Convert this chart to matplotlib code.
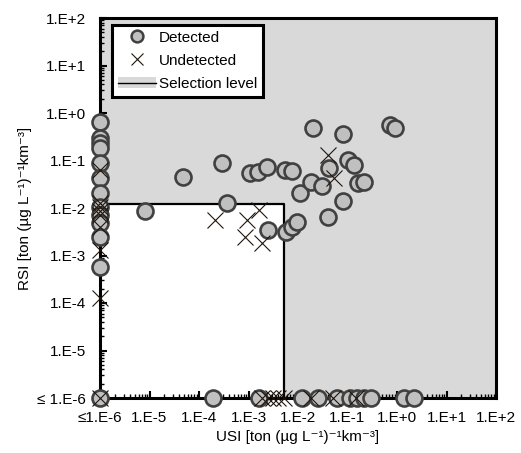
import matplotlib
matplotlib.use("Agg")
import matplotlib.pyplot as plt
from matplotlib.lines import Line2D
from matplotlib.patches import Patch, Polygon
from matplotlib.ticker import LogLocator, FixedLocator, NullFormatter

plt.rcParams['font.family'] = ['Liberation Sans', 'DejaVu Sans']

# ---- data (values at or below 1E-6 are plotted at the floor 1E-6) ----
usi_sel = 5.1e-3
rsi_sel = 0.012

det_usi = [
    # left column (USI <= 1E-6)
    1e-6, 1e-6, 1e-6, 1e-6, 1e-6, 1e-6, 1e-6, 1e-6, 1e-6, 1e-6, 1e-6, 1e-6,
    # bottom row (RSI <= 1E-6)
    1e-6, 1.9e-4, 1.6e-3, 0.012, 0.025, 0.061, 0.11, 0.156, 0.215, 0.30, 1.38, 2.2,
    # both above floor
    8.1e-6, 4.8e-5, 2.9e-4, 3.6e-4, 1.07e-3, 1.58e-3, 2.37e-3, 5.5e-3, 7.5e-3,
    0.011, 0.0185, 0.030, 0.043, 0.104, 0.135, 0.165, 0.212, 0.083, 0.041,
    0.0203, 0.082, 0.72, 0.93, 2.5e-3, 5.7e-3, 7.5e-3, 9.5e-3,
]
det_rsi = [
    0.66, 0.30, 0.23, 0.18, 0.089, 0.043, 0.021, 0.0105, 0.0071, 0.0048, 0.0025, 5.7e-4,
    1e-6, 1e-6, 1e-6, 1e-6, 1e-6, 1e-6, 1e-6, 1e-6, 1e-6, 1e-6, 1e-6, 1e-6,
    8.6e-3, 0.046, 0.087, 0.0126, 0.054, 0.058, 0.074, 0.063, 0.059,
    0.0204, 0.0358, 0.0286, 0.070, 0.1026, 0.080, 0.0344, 0.0358, 0.0143, 6.6e-3,
    0.48, 0.36, 0.56, 0.48, 3.4e-3, 3.1e-3, 3.9e-3, 5.0e-3,
]

und_usi = [
    1e-6, 1e-6, 1e-6, 1e-6, 1e-6, 1e-6, 1e-6, 1e-6,
    1e-6, 1.9e-3, 2.5e-3, 3.1e-3, 3.9e-3, 5.2e-3, 0.018, 0.051, 0.149,
    2.1e-4, 9.2e-4, 1.6e-3, 8.5e-4, 1.85e-3, 0.041, 0.054,
]
und_rsi = [
    0.063, 0.0127, 0.0105, 0.0086, 0.0071, 0.004, 1.3e-3, 1.3e-4,
    1e-6, 1e-6, 1e-6, 1e-6, 1e-6, 1e-6, 1e-6, 1e-6, 1e-6,
    5.6e-3, 5.6e-3, 9.1e-3, 2.5e-3, 1.8e-3, 0.13, 0.043,
]

x_ticks = [1e-6, 1e-5, 1e-4, 1e-3, 1e-2, 1e-1, 1e0, 1e1, 1e2]
x_labels = ['\u22641.E-6', '1.E-5', '1.E-4', '1.E-3', '1.E-2', '1.E-1', '1.E+0', '1.E+1', '1.E+2']
y_ticks = [1e-6, 1e-5, 1e-4, 1e-3, 1e-2, 1e-1, 1e0, 1e1, 1e2]
y_labels = ['\u2264 1.E-6', '1.E-5', '1.E-4', '1.E-3', '1.E-2', '1.E-1', '1.E+0', '1.E+1', '1.E+2']

# ---- figure ----
fig = plt.figure(figsize=(5.21, 4.53), dpi=100)
ax = fig.add_axes([100 / 521, 1 - 398 / 453, 396 / 521, 380 / 453])
ax.set_xscale('log')
ax.set_yscale('log')
xmin, xmax = x_ticks[0], x_ticks[-1]
ymin, ymax = y_ticks[0], y_ticks[-1]
ax.set_xlim(xmin, xmax)
ax.set_ylim(ymin, ymax)

gray = '#d9d9d9'
sel = Polygon([(usi_sel, ymin), (xmax, ymin), (xmax, ymax), (xmin, ymax),
               (xmin, rsi_sel), (usi_sel, rsi_sel)],
              closed=True, facecolor=gray, edgecolor='none', zorder=1)
ax.add_patch(sel)
ax.plot([xmin, usi_sel, usi_sel], [rsi_sel, rsi_sel, ymin], color='black', lw=1.6, zorder=2,
        solid_capstyle='butt')

ax.plot(det_usi, det_rsi, ls='', marker='o', ms=11.5, mfc='#c0c0c0', mec='#404040',
        mew=1.9, clip_on=False, zorder=4)
ax.plot(und_usi, und_rsi, ls='', marker='x', ms=11.5, color='#1f150c', mew=0.8,
        clip_on=False, zorder=5)

for s in ax.spines.values():
    s.set_linewidth(2.2)
    s.set_zorder(3)

ax.xaxis.set_major_locator(FixedLocator(x_ticks))
ax.yaxis.set_major_locator(FixedLocator(y_ticks))
ax.set_xticklabels(x_labels)
ax.set_yticklabels(y_labels)
ax.xaxis.set_minor_locator(LogLocator(base=10, subs=range(2, 10), numticks=20))
ax.yaxis.set_minor_locator(LogLocator(base=10, subs=range(2, 10), numticks=20))
ax.xaxis.set_minor_formatter(NullFormatter())
ax.yaxis.set_minor_formatter(NullFormatter())
ax.tick_params(which='major', direction='in', length=5, width=1.5, labelsize=11, pad=9,
               top=False, right=False)
ax.tick_params(which='minor', direction='in', length=3, width=1.0, top=False, right=False)
ax.tick_params(axis='y', which='major', pad=10)

label_tail = ' [ton (\u00b5g L\u207b\u00b9)\u207b\u00b9km\u207b\u00b3]'
ax.set_xlabel('USI' + label_tail, fontsize=11, labelpad=4)
ax.set_ylabel('RSI' + label_tail, fontsize=11, labelpad=4)

h1 = Line2D([], [], ls='', marker='o', ms=8.5, mfc='#c0c0c0', mec='#404040', mew=1.8)
h2 = Line2D([], [], ls='', marker='x', ms=8.5, color='#1f150c', mew=0.8)
h3 = (Patch(facecolor=gray, edgecolor='none'), Line2D([], [], color='black', lw=1.0))
leg = ax.legend([h1, h2, h3], ['Detected', 'Undetected', 'Selection level'],
                loc='upper left', bbox_to_anchor=(0.03, 0.982), borderaxespad=0,
                fontsize=11, frameon=True, fancybox=False, framealpha=1,
                edgecolor='black', handlelength=2.5, handletextpad=0.2,
                labelspacing=0.6, borderpad=0.38)
leg.get_frame().set_linewidth(2.2)
leg.set_zorder(6)

fig.savefig('out.png', dpi=100)
